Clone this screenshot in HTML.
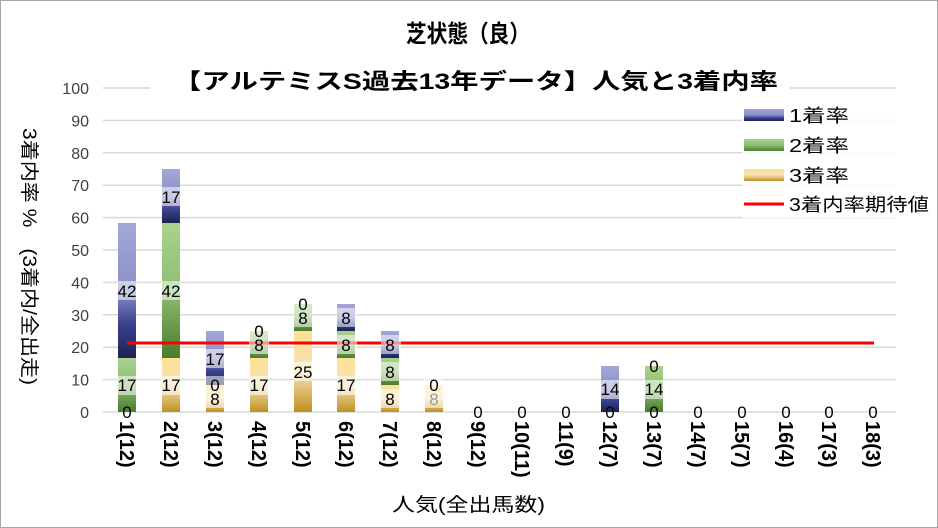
<!DOCTYPE html>
<html><head><meta charset="utf-8"><style>
html,body{margin:0;padding:0;background:#fff}
svg{display:block}
text{font-family:"Liberation Sans","Noto Sans CJK JP",sans-serif}
</style></head><body>
<svg width="938" height="528" viewBox="0 0 938 528" xmlns="http://www.w3.org/2000/svg">
<defs>
<linearGradient id="gb" x1="0" y1="0" x2="0" y2="1"><stop offset="0" stop-color="#a3a7d8"/><stop offset="0.5" stop-color="#8a8fc6"/><stop offset="0.75" stop-color="#3a4290"/><stop offset="1" stop-color="#1c2250"/></linearGradient>
<linearGradient id="gg" x1="0" y1="0" x2="0" y2="1"><stop offset="0" stop-color="#aad28f"/><stop offset="0.5" stop-color="#8ebe72"/><stop offset="1" stop-color="#4b7c2d"/></linearGradient>
<linearGradient id="gy" x1="0" y1="0" x2="0" y2="1"><stop offset="0" stop-color="#ffe194"/><stop offset="0.5" stop-color="#f5e2b4"/><stop offset="1" stop-color="#c09020"/></linearGradient>
</defs>
<rect x="0.5" y="0.5" width="937" height="527" fill="#fff" stroke="#a6a6a6"/>
<g stroke="#d9d9d9" stroke-width="1.5">
<line x1="103" x2="896" y1="88" y2="88"/><line x1="103" x2="896" y1="120.4" y2="120.4"/><line x1="103" x2="896" y1="152.8" y2="152.8"/><line x1="103" x2="896" y1="185.2" y2="185.2"/><line x1="103" x2="896" y1="217.6" y2="217.6"/><line x1="103" x2="896" y1="250" y2="250"/><line x1="103" x2="896" y1="282.4" y2="282.4"/><line x1="103" x2="896" y1="314.8" y2="314.8"/><line x1="103" x2="896" y1="347.2" y2="347.2"/><line x1="103" x2="896" y1="379.6" y2="379.6"/><line x1="103" x2="896" y1="412" y2="412"/>
</g>
<g font-size="16" fill="#404040" text-anchor="end">
<text x="89" y="94">100</text><text x="89" y="126.4">90</text><text x="89" y="158.8">80</text><text x="89" y="191.2">70</text><text x="89" y="223.6">60</text><text x="89" y="256">50</text><text x="89" y="288.4">40</text><text x="89" y="320.8">30</text><text x="89" y="353.2">20</text><text x="89" y="385.6">10</text><text x="89" y="418">0</text>
</g>
<rect x="150" y="65" width="640" height="32" fill="#fff"/>
<text x="406" y="42" font-size="24" font-weight="bold" fill="#000" textLength="124" lengthAdjust="spacingAndGlyphs">芝状態（良）</text>
<text x="173" y="89" font-size="22" font-weight="bold" fill="#000" textLength="605" lengthAdjust="spacingAndGlyphs">【アルテミスS過去13年データ】人気と3着内率</text>
<g>
<rect x="118" y="358" width="18" height="54" fill="url(#gg)"/><rect x="118" y="223" width="18" height="135" fill="url(#gb)"/>
<rect x="162" y="358" width="18" height="54" fill="url(#gy)"/><rect x="162" y="223" width="18" height="135" fill="url(#gg)"/><rect x="162" y="169" width="18" height="54" fill="url(#gb)"/>
<rect x="206" y="385" width="18" height="27" fill="url(#gy)"/><rect x="206" y="331" width="18" height="54" fill="url(#gb)"/>
<rect x="250" y="358" width="18" height="54" fill="url(#gy)"/><rect x="250" y="331" width="18" height="27" fill="url(#gg)"/>
<rect x="294" y="331" width="18" height="81" fill="url(#gy)"/><rect x="294" y="304" width="18" height="27" fill="url(#gg)"/>
<rect x="337" y="358" width="18" height="54" fill="url(#gy)"/><rect x="337" y="331" width="18" height="27" fill="url(#gg)"/><rect x="337" y="304" width="18" height="27" fill="url(#gb)"/>
<rect x="381" y="385" width="18" height="27" fill="url(#gy)"/><rect x="381" y="358" width="18" height="27" fill="url(#gg)"/><rect x="381" y="331" width="18" height="27" fill="url(#gb)"/>
<rect x="425" y="385" width="18" height="27" fill="url(#gy)"/>
<rect x="601" y="366" width="18" height="46" fill="url(#gb)"/>
<rect x="645" y="366" width="18" height="46" fill="url(#gg)"/>
</g>
<line x1="127" x2="874" y1="343" y2="343" stroke="#ff0000" stroke-width="3"/>
<g fill="#ffffff" fill-opacity="0.55">
<rect x="117" y="281" width="20" height="19"/><rect x="117" y="376" width="20" height="19"/>
<rect x="161" y="281" width="20" height="19"/><rect x="161" y="376" width="20" height="19"/><rect x="161" y="187" width="20" height="19"/>
<rect x="205" y="349" width="20" height="19"/><rect x="205" y="376" width="20" height="32"/>
<rect x="249" y="376" width="20" height="19"/><rect x="249" y="322" width="20" height="32"/>
<rect x="293" y="362" width="20" height="19"/><rect x="293" y="295" width="20" height="32"/>
<rect x="337" y="376" width="20" height="19"/><rect x="337" y="335" width="20" height="19"/><rect x="337" y="308" width="20" height="19"/>
<rect x="381" y="389" width="20" height="19"/><rect x="381" y="362" width="20" height="19"/><rect x="381" y="335" width="20" height="19"/>
<rect x="424" y="376" width="20" height="32"/>
<rect x="600" y="380" width="20" height="19"/><rect x="644" y="380" width="20" height="19"/>
</g>
<g font-size="17" fill="#000" text-anchor="middle">
<text x="127" y="418">0</text><text x="127" y="391">17</text><text x="127" y="297">42</text>
<text x="171" y="391">17</text><text x="171" y="297">42</text><text x="171" y="203">17</text>
<text x="215" y="405">8</text><text x="215" y="391">0</text><text x="215" y="365">17</text>
<text x="259" y="391">17</text><text x="259" y="351">8</text><text x="259" y="337">0</text>
<text x="303" y="378">25</text><text x="303" y="324">8</text><text x="303" y="310">0</text>
<text x="346" y="391">17</text><text x="346" y="351">8</text><text x="346" y="324">8</text>
<text x="390" y="405">8</text><text x="390" y="378">8</text><text x="390" y="351">8</text>
<text x="434" y="405" fill="#999">8</text><text x="434" y="391">0</text>
<text x="478" y="418">0</text><text x="522" y="418">0</text><text x="566" y="418">0</text>
<text x="610" y="418">0</text><text x="610" y="395">14</text>
<text x="654" y="418">0</text><text x="654" y="395">14</text><text x="654" y="372">0</text>
<text x="698" y="418">0</text><text x="742" y="418">0</text><text x="786" y="418">0</text><text x="829" y="418">0</text><text x="873" y="418">0</text>
</g>
<g font-size="20" font-weight="bold" fill="#000">
<text transform="translate(120,421) rotate(90)">1(12)</text>
<text transform="translate(164,421) rotate(90)">2(12)</text>
<text transform="translate(208,421) rotate(90)">3(12)</text>
<text transform="translate(252,421) rotate(90)">4(12)</text>
<text transform="translate(296,421) rotate(90)">5(12)</text>
<text transform="translate(339,421) rotate(90)">6(12)</text>
<text transform="translate(383,421) rotate(90)">7(12)</text>
<text transform="translate(427,421) rotate(90)">8(12)</text>
<text transform="translate(471,421) rotate(90)">9(12)</text>
<text transform="translate(515,421) rotate(90)">10(11)</text>
<text transform="translate(559,421) rotate(90)">11(9)</text>
<text transform="translate(603,421) rotate(90)">12(7)</text>
<text transform="translate(647,421) rotate(90)">13(7)</text>
<text transform="translate(691,421) rotate(90)">14(7)</text>
<text transform="translate(735,421) rotate(90)">15(7)</text>
<text transform="translate(779,421) rotate(90)">16(4)</text>
<text transform="translate(822,421) rotate(90)">17(3)</text>
<text transform="translate(866,421) rotate(90)">18(3)</text>
</g>
<text x="392" y="511" font-size="19" fill="#000" textLength="153" lengthAdjust="spacingAndGlyphs">人気(全出馬数)</text>
<text transform="translate(23,128) rotate(90)" font-size="19" fill="#000" textLength="257" lengthAdjust="spacingAndGlyphs">3着内率 %　(3着内/全出走)</text>
<rect x="742" y="100" width="190" height="118" fill="#fff" fill-opacity="0.85"/>
<rect x="744" y="109" width="40" height="12" fill="url(#gb)"/><text x="789" y="122" font-size="18" fill="#000" textLength="60" lengthAdjust="spacingAndGlyphs">1着率</text>
<rect x="744" y="139" width="40" height="12" fill="url(#gg)"/><text x="789" y="152" font-size="18" fill="#000" textLength="60" lengthAdjust="spacingAndGlyphs">2着率</text>
<rect x="744" y="169" width="40" height="12" fill="url(#gy)"/><text x="789" y="182" font-size="18" fill="#000" textLength="60" lengthAdjust="spacingAndGlyphs">3着率</text>
<line x1="744" x2="784" y1="204" y2="204" stroke="#ff0000" stroke-width="3"/><text x="789" y="211" font-size="18" fill="#000" textLength="140" lengthAdjust="spacingAndGlyphs">3着内率期待値</text>
</svg>
</body></html>
